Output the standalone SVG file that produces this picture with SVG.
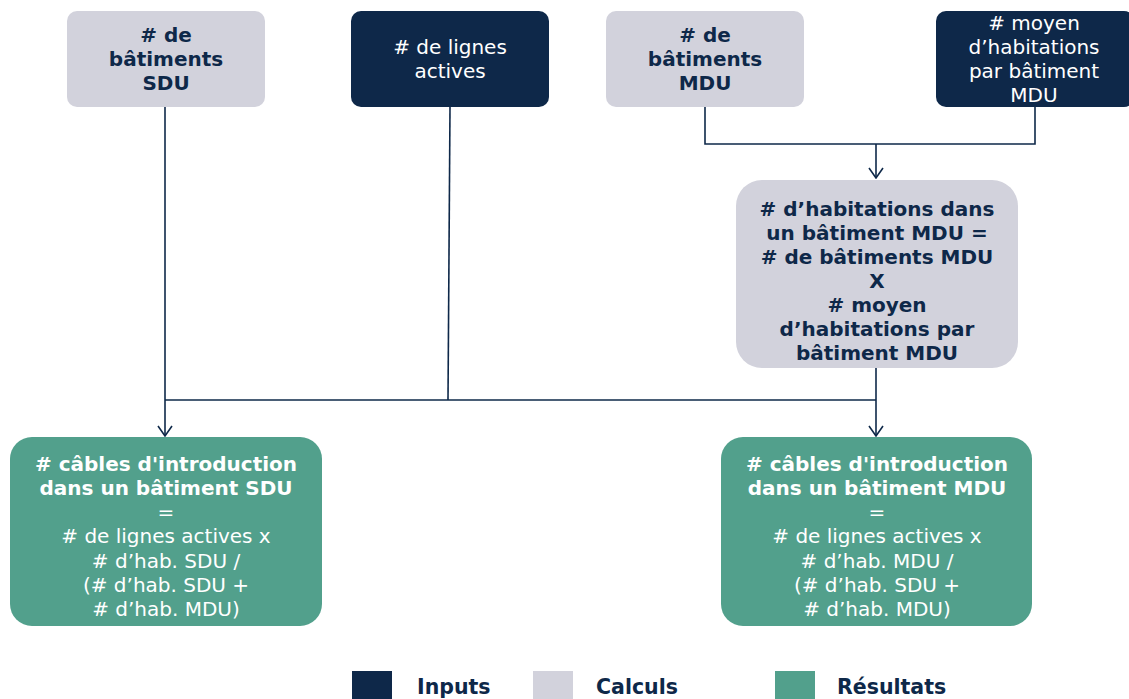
<svg xmlns="http://www.w3.org/2000/svg" width="1129" height="699" viewBox="0 0 1129 699">
<defs>
<marker id="arr" markerWidth="12" markerHeight="16" refX="11" refY="8" orient="auto" markerUnits="userSpaceOnUse" viewBox="0 0 12 16">
<path d="M1,1 L11,8 L1,15" fill="none" stroke="#0E2849" stroke-width="1.6"/>
</marker>
<style>
text{font-family:"DejaVu Sans",Verdana,sans-serif;font-size:20px;text-anchor:middle}
.in{fill:#0E2849}
.ca{fill:#D2D2DC}
.re{fill:#52A08C}
.tw{fill:#ffffff}
.td{fill:#0E2849;font-weight:bold}
.b{font-weight:bold}
.ln{fill:none;stroke:#0E2849;stroke-width:1.6}
.lg{fill:#0E2849;font-weight:bold;text-anchor:start;font-size:20.5px}
</style>
</defs>
<rect width="1129" height="699" fill="#ffffff"/>
<g id="connectors">
<path class="ln" d="M165,107 V436" marker-end="url(#arr)"/>
<path class="ln" d="M450,107 L448,400"/>
<path class="ln" d="M165,400 H876"/>
<path class="ln" d="M705,107 V144 H1035 V107"/>
<path class="ln" d="M876,144 V178" marker-end="url(#arr)"/>
<path class="ln" d="M876,368 V436" marker-end="url(#arr)"/>
</g>
<g id="n-sdu">
<rect class="ca" x="67" y="11" width="198" height="96" rx="10"/>
<text class="td" x="166" y="42"><tspan x="166"># de</tspan><tspan x="166" dy="24">bâtiments</tspan><tspan x="166" dy="24">SDU</tspan></text>
</g>
<g id="n-lignes">
<rect class="in" x="351" y="11" width="198" height="96" rx="10"/>
<text class="tw" x="450" y="54"><tspan x="450"># de lignes</tspan><tspan x="450" dy="24">actives</tspan></text>
</g>
<g id="n-mdu">
<rect class="ca" x="606" y="11" width="198" height="96" rx="10"/>
<text class="td" x="705" y="42"><tspan x="705"># de</tspan><tspan x="705" dy="24">bâtiments</tspan><tspan x="705" dy="24">MDU</tspan></text>
</g>
<g id="n-moyen">
<rect class="in" x="936" y="11" width="198" height="96" rx="10"/>
<text class="tw" x="1034" y="30"><tspan x="1034"># moyen</tspan><tspan x="1034" dy="24">d’habitations</tspan><tspan x="1034" dy="24">par bâtiment</tspan><tspan x="1034" dy="24">MDU</tspan></text>
</g>
<g id="n-calc">
<rect class="ca" x="736" y="180" width="282" height="188" rx="26"/>
<text class="td" x="877" y="216"><tspan x="877"># d’habitations dans</tspan><tspan x="877" dy="24">un bâtiment MDU =</tspan><tspan x="877" dy="24"># de bâtiments MDU</tspan><tspan x="877" dy="24">X</tspan><tspan x="877" dy="24"># moyen</tspan><tspan x="877" dy="24">d’habitations par</tspan><tspan x="877" dy="24">bâtiment MDU</tspan></text>
</g>
<g id="r-sdu">
<rect class="re" x="10" y="437" width="312" height="189" rx="22"/>
<text class="tw" x="166" y="471"><tspan x="166" class="b"># câbles d'introduction</tspan><tspan x="166" dy="24" class="b">dans un bâtiment SDU</tspan><tspan x="166" dy="24">=</tspan><tspan x="166" dy="24.3"># de lignes actives x</tspan><tspan x="166" dy="24.3"># d’hab. SDU /</tspan><tspan x="166" dy="24.3">(# d’hab. SDU +</tspan><tspan x="166" dy="24.3"># d’hab. MDU)</tspan></text>
</g>
<g id="r-mdu">
<rect class="re" x="721" y="437" width="311" height="189" rx="22"/>
<text class="tw" x="877" y="471"><tspan x="877" class="b"># câbles d'introduction</tspan><tspan x="877" dy="24" class="b">dans un bâtiment MDU</tspan><tspan x="877" dy="24">=</tspan><tspan x="877" dy="24.3"># de lignes actives x</tspan><tspan x="877" dy="24.3"># d’hab. MDU /</tspan><tspan x="877" dy="24.3">(# d’hab. SDU +</tspan><tspan x="877" dy="24.3"># d’hab. MDU)</tspan></text>
</g>
<g id="legend">
<rect class="in" x="352" y="671" width="40" height="30"/>
<text class="lg" x="417" y="694">Inputs</text>
<rect class="ca" x="533" y="671" width="40" height="30"/>
<text class="lg" x="596" y="694">Calculs</text>
<rect class="re" x="775" y="671" width="40" height="30"/>
<text class="lg" x="837" y="694">Résultats</text>
</g>
</svg>
